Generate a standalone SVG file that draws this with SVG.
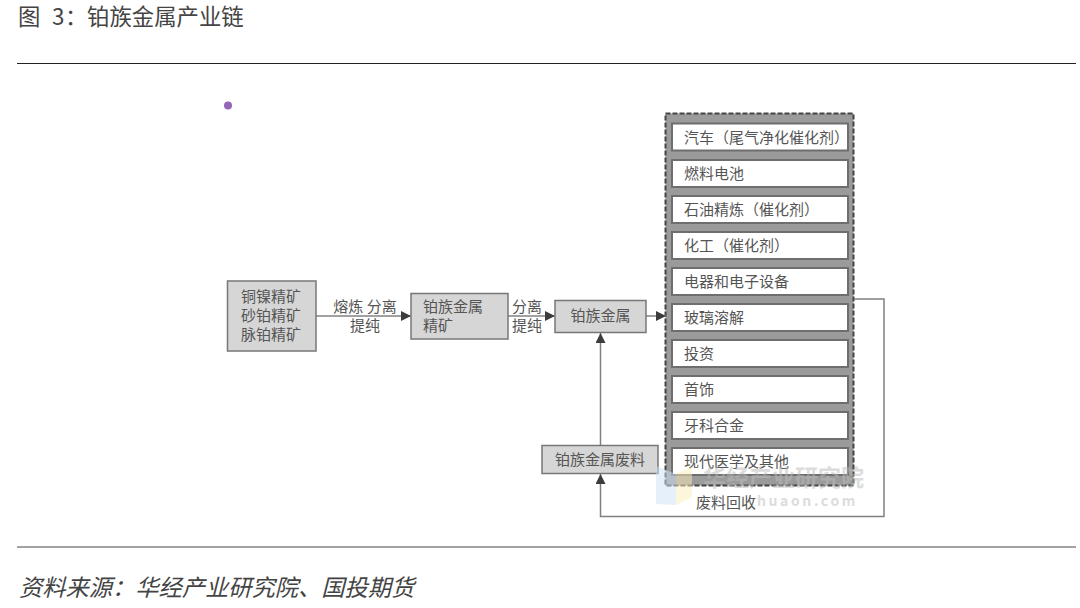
<svg xmlns="http://www.w3.org/2000/svg" width="1080" height="608" viewBox="0 0 1080 608">
<style>
text{font-family:"Noto Sans CJK SC","Noto Sans",sans-serif;fill:#555;font-size:15px}
.n{fill:#d6d6d6;stroke:#777;stroke-width:1.5}
.w{fill:#fff;stroke:#6e6e6e;stroke-width:2}
.c{fill:none;stroke:#808080;stroke-width:1.5}
.m{text-anchor:middle}
</style>
<defs>
<marker id="a" markerUnits="userSpaceOnUse" markerWidth="11" markerHeight="11" refX="10" refY="5" orient="auto"><path d="M0 0L10 5L0 10Z" fill="#3c3c3c"/></marker>
</defs>
<rect width="1080" height="608" fill="#fff"/>
<g id="header">
<text y="25" style="font-size:22.400px;fill:#444"><tspan x="18">图</tspan><tspan x="52">3</tspan><tspan x="65">：</tspan><tspan x="87">铂族金属产业链</tspan></text>
<line x1="17" y1="63.500" x2="1076" y2="63.500" stroke="#222"/>
<circle cx="228" cy="105.500" r="4" fill="#9565b8"/>
</g>
<g id="panel">
<rect x="665.500" y="113.500" width="188" height="372" fill="#9b9b9b" stroke="#444" stroke-width="2" stroke-dasharray="5 2"/>
</g>
<g id="connectors">
<path class="c" d="M316 316H411" marker-end="url(#a)"/>
<path class="c" d="M508 316H555" marker-end="url(#a)"/>
<path class="c" d="M646 316H666" marker-end="url(#a)"/>
<path class="c" d="M600.500 445V333" marker-end="url(#a)"/>
<path class="c" d="M854 299H884V516.500H600.500V474" marker-end="url(#a)"/>
</g>
<g id="n1"><rect class="n" x="227.500" y="281" width="88.500" height="70"/><text class="m" x="271" y="302">铜镍精矿</text><text class="m" x="271" y="321">砂铂精矿</text><text class="m" x="271" y="340">脉铂精矿</text></g>
<g id="n2"><rect class="n" x="411" y="293.500" width="97" height="45.500"/><text x="423" y="312">铂族金属</text><text x="423" y="331">精矿</text></g>
<g id="n3"><rect class="n" x="555" y="300.500" width="91" height="32"/><text class="m" x="600.500" y="321">铂族金属</text></g>
<g id="n4"><rect class="n" x="542" y="445.500" width="116" height="28"/><text class="m" x="600" y="465">铂族金属废料</text></g>
<g id="l1"><text class="m" x="365" y="312" xml:space="preserve">熔炼 分离</text><text class="m" x="365" y="331">提纯</text></g>
<g id="l2"><text class="m" x="527" y="312">分离</text><text class="m" x="527" y="331">提纯</text></g>
<g id="i1"><rect class="w" x="672" y="123.500" width="176" height="27"/><text x="684" y="143">汽车（尾气净化催化剂）</text></g>
<g id="i2"><rect class="w" x="672" y="160" width="176" height="27"/><text x="684" y="179">燃料电池</text></g>
<g id="i3"><rect class="w" x="672" y="196" width="176" height="27"/><text x="684" y="215">石油精炼（催化剂）</text></g>
<g id="i4"><rect class="w" x="672" y="232" width="176" height="27"/><text x="684" y="251">化工（催化剂）</text></g>
<g id="i5"><rect class="w" x="672" y="268" width="176" height="27"/><text x="684" y="287">电器和电子设备</text></g>
<g id="i6"><rect class="w" x="672" y="304" width="176" height="27"/><text x="684" y="323">玻璃溶解</text></g>
<g id="i7"><rect class="w" x="672" y="340" width="176" height="27"/><text x="684" y="359">投资</text></g>
<g id="i8"><rect class="w" x="672" y="376" width="176" height="27"/><text x="684" y="395">首饰</text></g>
<g id="i9"><rect class="w" x="672" y="412" width="176" height="27"/><text x="684" y="431">牙科合金</text></g>
<g id="i10"><rect class="w" x="672" y="448" width="176" height="27"/><text x="684" y="467">现代医学及其他</text></g>
<g id="watermark" opacity=".5">
<path d="M656 466L676 474V505L656 504Z" fill="#cfe2f7"/>
<path d="M676 474L692 467V497L676 505Z" fill="#fbeeb8"/>
<text x="703" y="486" style="font-size:23px;fill:#bbb;font-weight:700">华经产业研究院</text>
<text x="757" y="506" style="font-size:14px;fill:#bbb;font-weight:700;letter-spacing:2.600px">huaon.com</text>
</g>
<g id="l3"><text x="696" y="508">废料回收</text></g>
<g id="footer">
<line x1="17" y1="547" x2="1076" y2="547" stroke="#444"/>
<text x="19" y="596" style="font-size:23.250px;font-style:italic;fill:#444">资料来源：华经产业研究院、国投期货</text>
</g>
</svg>
